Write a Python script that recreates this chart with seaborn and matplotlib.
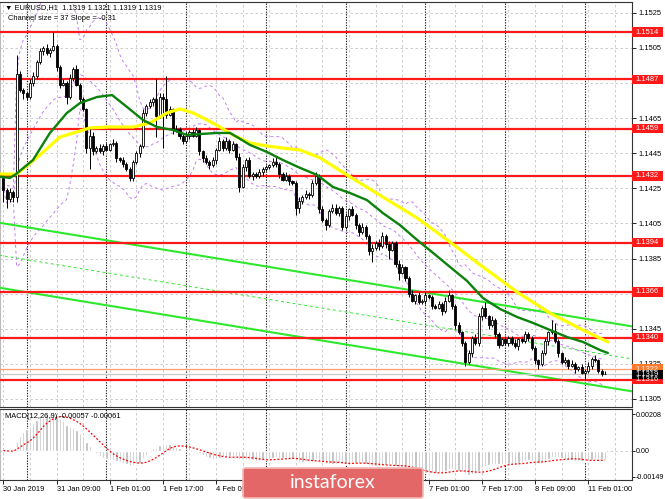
import numpy as np
import pandas as pd
import matplotlib
matplotlib.use("Agg")
import matplotlib.pyplot as plt
import matplotlib.transforms as mtransforms
from matplotlib.patches import Rectangle, FancyBboxPatch
import seaborn as sns

# EURUSD H1 candles, 30 Jan 17:00 -> 11 Feb 06:00 (bar index = hour on chart)
first_open = 1.1431
closes = [
    1.1424, 1.1419, 1.1423, 1.1420, 1.1490, 1.1481, 1.1479, 1.1477, 1.1485, 1.1489,
    1.1497, 1.1503, 1.1505, 1.1502, 1.1504, 1.1506, 1.1494, 1.1484, 1.1485, 1.1477,
    1.1488, 1.1493, 1.1484, 1.1476, 1.1470, 1.1448, 1.1455, 1.1446, 1.1448, 1.1446,
    1.1449, 1.1447, 1.1450, 1.1451, 1.1442, 1.1441, 1.1439, 1.1436, 1.1431, 1.1440,
    1.1445, 1.1449, 1.1468, 1.1472, 1.1474, 1.1476, 1.1466, 1.1477, 1.1476, 1.1467,
    1.1470, 1.1458, 1.1459, 1.1455, 1.1452, 1.1455, 1.1457, 1.1455, 1.1458, 1.1446,
    1.1442, 1.1440, 1.1438, 1.1441, 1.1447, 1.1452, 1.1448, 1.1452, 1.1447, 1.1450,
    1.1443, 1.1426, 1.1437, 1.1441, 1.1432, 1.1433, 1.1432, 1.1434, 1.1436, 1.1437,
    1.1438, 1.1440, 1.1439, 1.1433, 1.1430, 1.1432, 1.1429, 1.1428, 1.1414, 1.1418,
    1.1420, 1.1422, 1.1421, 1.1428, 1.1432, 1.1413, 1.1407, 1.1404, 1.1412, 1.1414,
    1.1411, 1.1414, 1.1403, 1.1409, 1.1413, 1.1410, 1.1404, 1.1400, 1.1403, 1.1398,
    1.1389, 1.1391, 1.1394, 1.1392, 1.1398, 1.1393, 1.1390, 1.1394, 1.1382, 1.1377,
    1.1380, 1.1374, 1.1365, 1.1361, 1.1364, 1.1360, 1.1361, 1.1364, 1.1363, 1.1358,
    1.1357, 1.1359, 1.1355, 1.1361, 1.1364, 1.1358, 1.1347, 1.1343, 1.1337, 1.1326,
    1.1331, 1.1340, 1.1337, 1.1352, 1.1357, 1.1352, 1.1347, 1.1350, 1.1342, 1.1336,
    1.1339, 1.1337, 1.1340, 1.1337, 1.1335, 1.1339, 1.1338, 1.1342, 1.1340, 1.1334,
    1.1327, 1.1325, 1.1331, 1.1338, 1.1343, 1.1344, 1.1338, 1.1331, 1.1326, 1.1327,
    1.1324, 1.1325, 1.1322, 1.1323, 1.1320, 1.1321, 1.1324, 1.1328, 1.1327, 1.1321,
    1.1319, 1.1319,
]
# wick lengths in pips above / below the body
up_wick = [
    2, 1, 2, 1, 11, 2, 1, 1, 2, 2,
    1, 2, 1, 2, 1, 8, 1, 1, 2, 1,
    2, 1, 2, 1, 1, 1, 5, 2, 1, 2,
    1, 2, 1, 2, 1, 1, 2, 1, 1, 1,
    1, 1, 2, 1, 2, 1, 11, 2, 2, 13,
    2, 1, 2, 1, 1, 2, 1, 2, 2, 1,
    1, 2, 1, 2, 1, 2, 1, 2, 1, 2,
    1, 2, 2, 1, 2, 1, 1, 2, 1, 1,
    1, 2, 3, 1, 1, 2, 1, 1, 1, 2,
    1, 2, 1, 2, 2, 1, 2, 1, 1, 2,
    2, 1, 1, 2, 1, 2, 1, 1, 2, 1,
    1, 2, 1, 2, 2, 1, 2, 1, 1, 2,
    2, 1, 1, 2, 1, 2, 1, 2, 1, 1,
    1, 2, 1, 2, 3, 1, 1, 2, 1, 1,
    2, 1, 2, 2, 1, 3, 1, 2, 1, 1,
    1, 2, 1, 1, 2, 1, 1, 2, 1, 1,
    1, 1, 2, 2, 1, 6, 4, 1, 1, 2,
    1, 2, 1, 1, 2, 1, 2, 1, 2, 1,
    1, 2,
]
down_wick = [
    7, 5, 2, 3, 3, 1, 3, 2, 1, 2,
    2, 1, 2, 1, 2, 1, 2, 2, 1, 4,
    1, 2, 1, 2, 1, 3, 12, 2, 1, 1,
    2, 1, 1, 1, 2, 1, 2, 1, 2, 2,
    1, 2, 1, 2, 1, 2, 12, 1, 28, 2,
    1, 2, 1, 2, 2, 1, 2, 1, 1, 2,
    2, 1, 2, 1, 2, 1, 2, 1, 2, 1,
    2, 3, 1, 2, 1, 2, 1, 1, 2, 1,
    1, 1, 2, 2, 1, 1, 2, 1, 4, 3,
    2, 1, 2, 1, 1, 2, 1, 3, 1, 1,
    1, 2, 2, 1, 2, 1, 2, 2, 1, 2,
    2, 6, 1, 2, 1, 2, 5, 1, 2, 4,
    1, 2, 2, 1, 2, 1, 1, 2, 1, 2,
    1, 1, 2, 1, 1, 2, 2, 1, 2, 2,
    1, 2, 1, 2, 2, 1, 2, 1, 2, 2,
    1, 1, 2, 1, 1, 2, 1, 1, 2, 1,
    2, 3, 1, 1, 2, 1, 1, 2, 1, 1,
    2, 1, 2, 1, 1, 4, 1, 2, 1, 1,
    1, 0,
]

# moving averages (bar, price)
ma_green_bars = [-1.0, 2.0, 3.8, 8.9, 14.0, 19.1, 23.1, 28.2, 32.7, 37.2, 42.0, 46.2, 51.0,
                 55.2, 59.2, 64.3, 68.2, 70.3, 74.2, 79.3, 84.1, 89.3, 94.4, 99.2, 104.3,
                 109.4, 114.2, 119.3, 124.5, 129.3, 134.4, 139.5, 144.3, 149.4, 154.6,
                 159.4, 164.5, 169.6, 174.4, 179.5, 181.9]
ma_green = [1.14316, 1.14309, 1.14331, 1.14411, 1.14565, 1.14679, 1.14736, 1.14770, 1.14781,
            1.14713, 1.14639, 1.14599, 1.14582, 1.14554, 1.14559, 1.14565, 1.14565, 1.14542,
            1.14497, 1.14457, 1.14411, 1.14366, 1.14326, 1.14257, 1.14223, 1.14183, 1.14109,
            1.14041, 1.13956, 1.13882, 1.13802, 1.13723, 1.13625, 1.13563, 1.13517, 1.13483,
            1.13443, 1.13403, 1.13375, 1.13329, 1.13312]
ma_yellow_bars = [-1.0, 4.1, 11.0, 17.0, 22.1, 26.1, 32.1, 39.0, 44.1, 49.2, 53.1, 57.1, 61.3,
                  65.2, 69.1, 74.2, 79.3, 84.1, 89.3, 95.3, 103.4, 114.2, 124.5, 134.4,
                  144.3, 154.6, 164.5, 174.4, 181.9]
ma_yellow = [1.14331, 1.14331, 1.14440, 1.14542, 1.14571, 1.14594, 1.14599, 1.14599, 1.14622,
             1.14679, 1.14702, 1.14679, 1.14639, 1.14599, 1.14553, 1.14508, 1.14491, 1.14479,
             1.14468, 1.14423, 1.14326, 1.14200, 1.14081, 1.13944, 1.13802, 1.13659, 1.13539,
             1.13443, 1.13375]

# equidistant channel: top price at bar 0, slope and width in pips
channel_top_start = 1.1405
channel_slope = -0.31
channel_size = 37

levels = [1.1514, 1.1487, 1.1459, 1.1432, 1.1394, 1.1366, 1.1340, 1.1316]
price_ticks = [1.1305, 1.1325, 1.1345, 1.1365, 1.1385, 1.1405, 1.1425, 1.1445, 1.1465,
               1.1485, 1.1505, 1.1525]
# tick labels that sit fully under a level tag are not shown on the terminal
hidden_ticks = [1.1365, 1.1485]
macd_ticks = [-0.00149, 0.0, 0.00208]
macd_tick_labels = ["-0.00149", "0.00", "0.00208"]
time_labels = ["30 Jan 2019", "31 Jan 09:00", "1 Feb 01:00", "1 Feb 17:00", "4 Feb 09:00",
               "", "", "", "7 Feb 01:00", "7 Feb 17:00", "8 Feb 09:00", "11 Feb 01:00"]
time_label_bars = [0, 16, 32, 48, 64, 80, 96, 112, 128, 144, 160, 176]
day_start_bars = [7, 31, 55, 79, 103, 127, 151, 175]
ask_price = 1.1322
bid_price = 1.1319

sns.set_theme(style="white")
plt.rcParams['font.family'] = ['Liberation Sans', 'DejaVu Sans']
FS = 5.4

fig = plt.figure(figsize=(6.65, 4.99), dpi=100)
ax = fig.add_axes([0, 0.18437, 0.95038, 0.81162])
axm = fig.add_axes([0, 0.03808, 0.95038, 0.14228])

bars = np.arange(len(closes))
c = np.array(closes)
o = np.r_[first_open, c[:-1]]
hi = np.maximum(o, c) + np.array(up_wick) * 1e-4
lo = np.minimum(o, c) - np.array(down_wick) * 1e-4
bull = c >= o

# grid and day separators
for a in (ax, axm):
    for b in range(0, 192, 8):
        a.axvline(b, color='#c4c4c4', lw=0.6, ls=(0, (3, 3)), zorder=1)
    for b in day_start_bars:
        a.axvline(b, color='#222222', lw=0.8, ls=(0, (1.2, 1.2)), zorder=1)
for p in price_ticks:
    ax.axhline(p, color='#c4c4c4', lw=0.6, ls=(0, (3, 3)), zorder=1)
axm.axhline(0, color='#c4c4c4', lw=0.6, ls=(0, (3, 3)), zorder=1)

# bollinger bands (20, 2)
cs = pd.Series(c)
bb_mid = cs.rolling(20, min_periods=1).mean()
bb_sd = cs.rolling(20, min_periods=1).std(ddof=0)
for band in (bb_mid + 2 * bb_sd, bb_mid, bb_mid - 2 * bb_sd):
    sns.lineplot(x=bars, y=band.values, ax=ax, color='#c27ef0', lw=0.7,
                 linestyle=(0, (3, 3)), zorder=2)

# channel
ch_x = np.array([-2, 190])
ch_top = channel_top_start + channel_slope * 1e-4 * ch_x
ch_bot = ch_top - channel_size * 1e-4
sns.lineplot(x=ch_x, y=ch_top, ax=ax, color='#2ee82e', lw=1.5, zorder=3)
sns.lineplot(x=ch_x, y=ch_bot, ax=ax, color='#2ee82e', lw=1.5, zorder=3)
sns.lineplot(x=ch_x, y=(ch_top + ch_bot) / 2, ax=ax, color='#2ee82e', lw=0.7,
             linestyle=(0, (3, 3)), zorder=3)

# support / resistance levels
for lv in levels:
    ax.axhline(lv, color='#ff1a1a', lw=1.6, zorder=3.5)
ax.axhline(ask_price, color='#ff9a6a', lw=0.9, zorder=3.5)
ax.axhline(bid_price, color='#c8c8c8', lw=0.9, zorder=3.5)

# candles
ax.vlines(bars, lo, hi, color='black', lw=0.7, zorder=4)
ax.bar(bars[bull], (c - o)[bull], bottom=o[bull], width=0.62, color='white',
       edgecolor='black', linewidth=0.6, zorder=5)
ax.bar(bars[~bull], (o - c)[~bull], bottom=c[~bull], width=0.62, color='black',
       edgecolor='black', linewidth=0.6, zorder=5)

# moving averages
sns.lineplot(x=ma_yellow_bars, y=ma_yellow, ax=ax, color='#ffff00', lw=2.3, zorder=6)
sns.lineplot(x=ma_green_bars, y=ma_green, ax=ax, color='#0c820c', lw=1.7, zorder=6.5)

ax.set_xlim(-1.02, 189.17)
ax.set_ylim(1.130044, 1.153109)
ax.set_xticks([])
ax.yaxis.tick_right()
ax.set_yticks(price_ticks)
ax.set_yticklabels(["" if p in hidden_ticks else f"{p:.4f}" for p in price_ticks])
ax.tick_params(axis='y', right=True, length=3, width=0.6, pad=1.5, labelsize=FS,
               colors='black', direction='out')

# price labels on the right edge
tr = mtransforms.blended_transform_factory(ax.transAxes, ax.transData)
box_h = 9.5 / 17559
def price_tag(val, fc, tc='white'):
    ax.add_patch(Rectangle((1.0, val - box_h / 2), 0.049, box_h, transform=tr,
                           facecolor=fc, edgecolor='none', clip_on=False, zorder=20))
    ax.text(1.006, val, f"{val:.4f}", transform=tr, color=tc, fontsize=FS,
            va='center', ha='left', clip_on=False, zorder=21)
for lv in levels:
    price_tag(lv, '#ff1a1a')
price_tag(ask_price, '#ff7a2a')
price_tag(bid_price, 'black')

# MACD
ema12 = cs.ewm(span=12, adjust=False).mean()
ema26 = cs.ewm(span=26, adjust=False).mean()
macd = ema12 - ema26
signal = macd.rolling(9, min_periods=1).mean()
axm.bar(bars, macd.values, width=0.7, color='#b9b9b9', zorder=3)
sns.lineplot(x=bars, y=signal.values, ax=axm, color='#ff0000', lw=0.9,
             linestyle=(0, (1.5, 1.5)), zorder=4)
axm.set_xlim(-1.02, 189.17)
axm.set_ylim(-0.001678, 0.002365)
axm.yaxis.tick_right()
axm.set_yticks(macd_ticks)
axm.set_yticklabels(macd_tick_labels)
axm.set_xticks(time_label_bars)
axm.set_xticklabels(time_labels, ha='left')
axm.tick_params(axis='y', right=True, length=2, width=0.6, pad=0.4, labelsize=5.1,
                colors='black', direction='out')
axm.tick_params(axis='x', bottom=True, length=3, width=0.6, pad=1.5, labelsize=FS,
                colors='black', direction='out')
axm.set_xlabel('')
axm.set_ylabel('')
ax.set_xlabel('')
ax.set_ylabel('')

for a in (ax, axm):
    for s in a.spines.values():
        s.set_color('#333333')
        s.set_linewidth(0.8)
    a.spines['left'].set_color('#bbbbbb')

fig.text(5 / 665, 1 - 8 / 499, "\u25bc EURUSD,H1  1.1319 1.1321 1.1319 1.1319",
         fontsize=FS, va='center', ha='left', color='black')
fig.text(8 / 665, 1 - 19 / 499, "Channel size = 37 Slope = -0.31",
         fontsize=FS, va='center', ha='left', color='black')
fig.text(5 / 665, 1 - 416 / 499, "MACD(12,26,9) -0.00057 -0.00061",
         fontsize=FS, va='center', ha='left', color='black', zorder=12)

# watermark
wm = FancyBboxPatch((243 / 665, 1 / 499), 180 / 665, 30 / 499,
                    boxstyle="round,pad=0,rounding_size=0.004",
                    transform=fig.transFigure, facecolor='#e36767',
                    edgecolor='#f2b8b8', linewidth=1.2, zorder=10)
fig.add_artist(wm)
fig.text(333 / 665, 1 - 483 / 499, "instaforex", fontsize=14, color='white',
         ha='center', va='center', family=['Lato', 'DejaVu Sans'], zorder=11)

fig.savefig('out.png', dpi=100)
